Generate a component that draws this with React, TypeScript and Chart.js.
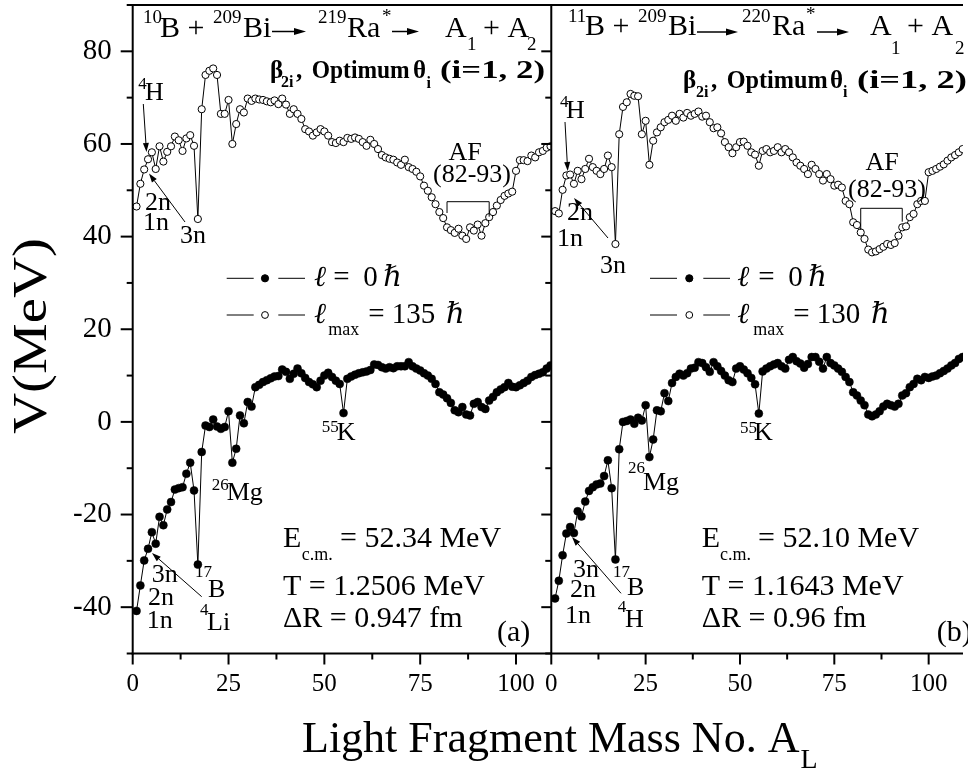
import React, { useEffect, useRef } from 'react';
import { Chart, registerables } from 'chart.js';

Chart.register(...registerables);

const SERIF = '"Liberation Serif", "Times New Roman", "DejaVu Serif", serif';

// Light fragment mass numbers A_L
const massNumbers = [
  1, 2, 3, 4, 5, 6, 7, 8, 9, 10, 11, 12, 13, 14, 15, 16, 17, 18, 19, 20,
  21, 22, 23, 24, 25, 26, 27, 28, 29, 30, 31, 32, 33, 34, 35, 36, 37, 38, 39, 40,
  41, 42, 43, 44, 45, 46, 47, 48, 49, 50, 51, 52, 53, 54, 55, 56, 57, 58, 59, 60,
  61, 62, 63, 64, 65, 66, 67, 68, 69, 70, 71, 72, 73, 74, 75, 76, 77, 78, 79, 80,
  81, 82, 83, 84, 85, 86, 87, 88, 89, 90, 91, 92, 93, 94, 95, 96, 97, 98, 99, 100,
  101, 102, 103, 104, 105, 106, 107, 108, 109,
];

// (a) 10B + 209Bi, l_max = 135 hbar (open circles)
const leftOpenV = [
  46.5, 51.4, 54.5, 56.7, 58.2, 54.6, 59.5, 56.2, 58.3, 59.5,
  61.6, 60.8, 58.5, 61.2, 61.9, 59.6, 43.8, 67.5, 74.9, 75.8,
  76.3, 74.9, 66.5, 66.5, 69.5, 60.0, 64.3, 67.5, 66.8, 69.8,
  69.3, 69.8, 69.6, 69.5, 69.2, 69.0, 69.4, 68.6, 69.8, 68.5,
  66.5, 67.5, 66.5, 65.4, 63.2, 62.7, 61.8, 62.5, 63.2, 62.7,
  61.8, 60.4, 60.2, 60.7, 60.4, 61.3, 61.1, 61.4, 61.1, 60.4,
  59.6, 60.9, 60.0, 58.9, 57.6, 57.1, 56.8, 56.6, 56.0, 55.5,
  56.6, 55.0, 54.6, 54.0, 53.0, 51.0, 49.9, 48.5, 47.0, 45.3,
  44.0, 42.0, 41.4, 40.8, 41.7, 40.2, 39.5, 42.0, 41.3, 42.6,
  40.2, 42.9, 44.2, 45.3, 46.7, 47.9, 48.8, 49.3, 49.7, 54.2,
  56.5, 56.5, 56.3, 57.5, 57.1, 58.2, 58.5, 59.2, 59.5,
];

// (a) l = 0 (filled circles)
const leftFilledV = [
  -40.8, -35.3, -29.9, -27.4, -23.8, -26.3, -20.5, -22.3, -18.9, -17.3,
  -14.6, -14.3, -14.1, -11.2, -8.8, -14.8, -30.8, -6.5, -0.8, -1.1,
  0.5, -1.0, -1.5, -1.1, 2.3, -8.8, -5.8, 1.4, -0.3, 4.3,
  3.3, 7.5, 8.0, 8.6, 9.0, 9.4, 9.8, 9.9, 11.3, 10.8,
  9.3, 10.4, 11.5, 10.5, 9.5, 8.6, 8.1, 7.5, 8.9, 10.0,
  10.6, 9.7, 8.9, 8.2, 1.9, 9.3, 9.8, 10.2, 10.5, 10.7,
  10.9, 11.2, 12.4, 12.3, 11.8, 11.5, 11.8, 11.6, 12.0, 12.0,
  12.0, 12.9, 12.0, 11.5, 11.1, 10.5, 10.0, 9.3, 8.2, 6.4,
  5.9, 5.1, 4.1, 2.5, 2.1, 3.2, 1.6, 1.4, 3.9, 4.3,
  3.2, 2.8, 4.6, 5.4, 6.4, 7.0, 7.5, 8.4, 7.6, 7.5,
  7.9, 8.4, 8.9, 9.7, 10.1, 10.4, 10.7, 11.5, 12.2,
];

// (b) 11B + 209Bi, l_max = 130 hbar (open circles)
const rightOpenV = [
  45.5, 45.0, 50.1, 53.2, 53.4, 51.4, 54.2, 52.4, 54.6, 56.8,
  55.0, 54.2, 53.5, 54.6, 57.5, 55.0, 38.4, 62.1, 68.0, 69.0,
  70.8, 70.4, 70.3, 62.1, 65.0, 55.5, 60.7, 62.5, 63.6, 64.7,
  65.2, 66.1, 65.0, 66.5, 65.7, 66.7, 66.1, 66.5, 67.0, 65.9,
  66.1, 64.7, 63.4, 63.6, 62.3, 60.4, 59.3, 58.0, 59.3, 60.4,
  60.5, 59.6, 58.2, 57.7, 55.3, 58.5, 58.9, 58.2, 58.5, 59.3,
  58.2, 58.9, 58.2, 57.1, 56.0, 55.3, 54.6, 53.5, 55.5, 54.6,
  53.5, 52.1, 53.5, 52.4, 51.0, 51.2, 50.6, 47.7, 47.0, 43.1,
  42.5, 40.9, 39.5, 37.2, 36.6, 36.8, 37.3, 37.8, 38.4, 38.2,
  38.6, 40.2, 42.0, 42.2, 44.2, 44.9, 47.0, 47.7, 47.7, 53.9,
  54.2, 54.6, 55.1, 55.6, 56.4, 57.1, 57.6, 58.2, 58.9,
];

// (b) l = 0 (filled circles)
const rightFilledV = [
  -38.1, -34.3, -28.8, -24.1, -22.7, -24.0, -19.3, -20.4, -17.2, -14.9,
  -14.1, -13.5, -13.3, -11.7, -8.3, -14.3, -29.7, -5.9, 0.0, 0.2,
  0.5, -0.4, 0.9, 0.3, 3.6, -7.6, -3.8, 2.5, 2.3, 6.2,
  4.5, 8.4, 9.7, 10.4, 10.0, 10.5, 11.5, 11.7, 12.9, 12.7,
  11.8, 10.8, 12.9, 12.0, 11.0, 10.0, 9.0, 8.6, 11.5, 12.0,
  11.3, 10.5, 9.5, 8.1, 1.8, 10.9, 11.5, 12.0, 12.4, 12.7,
  12.0, 11.5, 13.4, 14.0, 13.1, 12.6, 11.7, 12.5, 14.0, 14.0,
  13.0, 11.5, 14.0, 12.7, 12.2, 11.5, 10.8, 9.7, 8.6, 6.4,
  5.7, 4.6, 3.6, 1.6, 1.2, 1.6, 2.3, 3.3, 3.9, 3.6,
  3.3, 3.9, 5.7, 6.2, 7.5, 8.2, 9.3, 9.0, 9.7, 9.5,
  9.8, 10.0, 10.5, 11.0, 11.5, 12.2, 12.7, 13.6, 14.0,
];

const yTickValues = [-50, -40, -30, -20, -10, 0, 10, 20, 30, 40, 50, 60, 70, 80, 90];
const yLabelValues = [-40, -20, 0, 20, 40, 60, 80];
const xTickValues = [0, 12.5, 25, 37.5, 50, 62.5, 75, 87.5, 100];
const xLabelValues = [0, 25, 50, 75, 100];
const afBand = [82, 93];

// ---------- drawing helpers ----------
function put(ctx: any, text: string, x: number, y: number, size: number, style = '', align = 'left', fitW = 0) {
  ctx.save();
  ctx.font = `${style} ${size}px ${SERIF}`.trim();
  ctx.textAlign = align;
  ctx.textBaseline = 'alphabetic';
  ctx.fillStyle = '#000';
  if (fitW > 0) {
    const w = ctx.measureText(text).width;
    ctx.translate(x, y);
    ctx.scale(fitW / w, 1);
    ctx.fillText(text, 0, 0);
  } else {
    ctx.fillText(text, x, y);
  }
  ctx.restore();
}

function seg(ctx: any, x1: number, y1: number, x2: number, y2: number, w = 1) {
  ctx.save();
  ctx.strokeStyle = '#000';
  ctx.lineWidth = w;
  ctx.beginPath();
  ctx.moveTo(x1, y1);
  ctx.lineTo(x2, y2);
  ctx.stroke();
  ctx.restore();
}

function arrow(ctx: any, x1: number, y1: number, x2: number, y2: number, head = 10, half = 3.2, w = 1) {
  const ang = Math.atan2(y2 - y1, x2 - x1);
  const bx = x2 - head * Math.cos(ang);
  const by = y2 - head * Math.sin(ang);
  seg(ctx, x1, y1, bx, by, w);
  ctx.save();
  ctx.fillStyle = '#000';
  ctx.beginPath();
  ctx.moveTo(x2, y2);
  ctx.lineTo(bx + half * Math.sin(ang), by - half * Math.cos(ang));
  ctx.lineTo(bx - half * Math.sin(ang), by + half * Math.cos(ang));
  ctx.closePath();
  ctx.fill();
  ctx.restore();
}

function circ(ctx: any, x: number, y: number, r: number, filled: boolean) {
  ctx.save();
  ctx.beginPath();
  ctx.arc(x, y, r, 0, Math.PI * 2);
  ctx.fillStyle = filled ? '#000' : '#fff';
  ctx.fill();
  ctx.strokeStyle = '#000';
  ctx.lineWidth = 1;
  ctx.stroke();
  ctx.restore();
}

const decorPlugin = {
  id: 'decor',
  beforeDatasetDraw(chart: any, args: any) {
    const meta = chart.getDatasetMeta(args.index);
    const xs = meta.xScale;
    const ca = chart.chartArea;
    chart.ctx.save();
    chart.ctx.beginPath();
    chart.ctx.rect(xs.left, ca.top - 10, xs.right - xs.left, ca.bottom - ca.top + 20);
    chart.ctx.clip();
  },
  afterDatasetDraw(chart: any) {
    chart.ctx.restore();
  },
  afterDraw(chart: any) {
    const ctx = chart.ctx;
    const ca = chart.chartArea;
    const ys = chart.scales.y;
    const xl = chart.scales.x1;
    const xr = chart.scales.x2;

    // frame
    seg(ctx, ca.left - 1, ca.top, ca.right, ca.top, 2);
    seg(ctx, ca.left, ca.top, ca.left, ca.bottom + 1, 2);
    seg(ctx, ca.left - 1, ca.bottom, ca.right, ca.bottom, 2);
    seg(ctx, xr.left, ca.top, xr.left, ca.bottom, 2);

    // y ticks (outward on left axis, and on the divider)
    yTickValues.forEach((v) => {
      const py = ys.getPixelForValue(v);
      const major = v % 20 === 0;
      seg(ctx, ca.left - (major ? 12 : 6), py, ca.left, py, 2);
      seg(ctx, xr.left - (major ? 10 : 6), py, xr.left, py, 2);
    });
    // x ticks
    [xl, xr].forEach((sc: any) => {
      xTickValues.forEach((v) => {
        const px = sc.getPixelForValue(v);
        const major = v % 25 === 0;
        seg(ctx, px, ca.bottom, px, ca.bottom + (major ? 11 : 6), 2);
      });
    });

    // axis titles
    ctx.save();
    ctx.translate(46, 336);
    ctx.rotate(-Math.PI / 2);
    put(ctx, 'V(MeV)', -98, 0, 48, '', 'left', 196);
    ctx.restore();
    ctx.save();
    ctx.font = `44px ${SERIF}`;
    const tx = 302;
    const tw = ctx.measureText('Light Fragment Mass No. A').width;
    ctx.restore();
    put(ctx, 'Light Fragment Mass No. A', tx, 752, 44);
    put(ctx, 'L', tx + tw + 1, 768, 28);

    // ----- panel (a) top -----
    put(ctx, '10', 143, 23, 19);
    put(ctx, 'B +', 160, 36.7, 30);
    put(ctx, '209', 213, 23, 19);
    put(ctx, 'Bi', 243, 36.7, 30);
    arrow(ctx, 272, 31.5, 306, 31.5, 12, 3.5, 1.5);
    put(ctx, '219', 318, 23, 19);
    put(ctx, 'Ra', 347, 36.7, 30);
    put(ctx, '*', 382, 22, 19);
    arrow(ctx, 392, 31.5, 419, 31.5, 12, 3.5, 1.5);
    put(ctx, 'A', 445, 36.7, 30);
    put(ctx, '1', 467, 50, 19);
    put(ctx, '+ A', 483, 36.7, 30);
    put(ctx, '2', 527, 50, 19);

    put(ctx, 'β', 270, 78, 25, 'bold');
    put(ctx, '2i', 281, 87, 16, 'bold');
    put(ctx, ',', 296, 78, 25, 'bold');
    put(ctx, 'Optimum', 311.7, 78, 25, 'bold', 'left', 98);
    put(ctx, 'θ', 413, 78, 25, 'bold');
    put(ctx, 'i', 426.5, 88, 16, 'bold');
    put(ctx, '(i=1, 2)', 440, 78, 25, 'bold', 'left', 105);

    // ----- panel (b) top -----
    put(ctx, '11', 568, 22, 19);
    put(ctx, 'B +', 585, 35, 30);
    put(ctx, '209', 638, 22, 19);
    put(ctx, 'Bi', 668, 35, 30);
    arrow(ctx, 697, 32, 738, 32, 12, 3.5, 1.5);
    put(ctx, '220', 742, 22, 19);
    put(ctx, 'Ra', 772, 35, 30);
    put(ctx, '*', 806, 20, 19);
    arrow(ctx, 817, 32, 849, 32, 12, 3.5, 1.5);
    put(ctx, 'A', 870, 35, 30);
    put(ctx, '1', 891, 54, 19);
    put(ctx, '+ A', 907, 35, 30);
    put(ctx, '2', 955, 54, 19);

    put(ctx, 'β', 683, 87.5, 25, 'bold');
    put(ctx, '2i', 696, 96.5, 16, 'bold');
    put(ctx, ',', 711, 87.5, 25, 'bold');
    put(ctx, 'Optimum', 726.7, 87.5, 25, 'bold', 'left', 101);
    put(ctx, 'θ', 830, 87.5, 25, 'bold');
    put(ctx, 'i', 843, 97, 16, 'bold');
    put(ctx, '(i=1, 2)', 857, 87.5, 25, 'bold', 'left', 110);

    // ----- legends -----
    const legend = (l1: number, dot: number, l2a: number, l2b: number, tx0: number, eq1: number, z: number, hb1: number,
      mx: number, eq2: number, num: number, hb2: number, numTxt: string) => {
      const yA = 278.3, yB = 315;
      seg(ctx, l1, yA, l1 + 27, yA, 1);
      seg(ctx, l2a, yA, l2b, yA, 1);
      circ(ctx, dot, yA, 3.6, true);
      seg(ctx, l1, yB, l1 + 27, yB, 1);
      seg(ctx, l2a, yB, l2b, yB, 1);
      circ(ctx, dot, yB, 3.4, false);
      put(ctx, 'ℓ', tx0, 285.7, 29, 'italic');
      put(ctx, '=', eq1, 285.7, 29);
      put(ctx, '0', z, 285.7, 29);
      put(ctx, 'ℏ', hb1, 285.7, 29, 'italic');
      put(ctx, 'ℓ', tx0, 323.3, 29, 'italic');
      put(ctx, 'max', mx, 335, 18);
      put(ctx, '=', eq2, 323.3, 29);
      put(ctx, numTxt, num, 323.3, 29);
      put(ctx, 'ℏ', hb2, 323.3, 29, 'italic');
    };
    legend(226.7, 265, 278.3, 305, 314, 333.3, 363.3, 383.3, 328.3, 368.3, 391.7, 446, '135');
    legend(650, 689.3, 703.3, 730, 737.3, 758.3, 788.3, 808.3, 753.3, 793.3, 816.7, 871, '130');

    // ----- panel (a) labels -----
    put(ctx, '4', 138.3, 89, 17);
    put(ctx, 'H', 145, 100, 26);
    arrow(ctx, 143.3, 104, 146.5, 152, 9, 3);
    put(ctx, '2n', 145, 210, 26);
    put(ctx, '1n', 143, 230, 26);
    put(ctx, '3n', 180, 242.7, 26);
    arrow(ctx, 185, 222, 149, 173.5, 9, 3);
    put(ctx, 'AF', 465, 160, 26, '', 'center');
    put(ctx, '(82-93)', 472, 181.7, 26, '', 'center');
    {
      const a = xl.getPixelForValue(afBand[0]);
      const b = xl.getPixelForValue(afBand[1]);
      seg(ctx, a, 213, a, 201.7, 1);
      seg(ctx, a, 201.7, b, 201.7, 1);
      seg(ctx, b, 201.7, b, 216.7, 1);
    }
    put(ctx, '55', 321.7, 431.7, 17);
    put(ctx, 'K', 336.7, 440, 26);
    put(ctx, '26', 211.7, 490, 17);
    put(ctx, 'Mg', 226.7, 500, 26);
    put(ctx, '17', 195, 577, 17);
    put(ctx, 'B', 208, 596.7, 26);
    put(ctx, '3n', 151.7, 581.7, 26);
    put(ctx, '2n', 148, 605, 26);
    put(ctx, '1n', 146.7, 628, 26);
    put(ctx, '4', 200, 615, 17);
    put(ctx, 'Li', 207, 630, 26);
    arrow(ctx, 201.7, 596.7, 152, 553, 9, 3);

    put(ctx, 'E', 283, 546.7, 30);
    put(ctx, 'c.m.', 301.7, 560, 18);
    put(ctx, '= 52.34 MeV', 340, 546.7, 30);
    put(ctx, 'T = 1.2506 MeV', 283, 595, 30);
    put(ctx, 'ΔR = 0.947 fm', 283, 626.7, 30);
    put(ctx, '(a)', 497, 641, 30);

    // ----- panel (b) labels -----
    put(ctx, '4', 560, 107, 17);
    put(ctx, 'H', 566, 118.3, 26);
    arrow(ctx, 565, 122, 567.7, 171, 9, 3);
    put(ctx, '2n', 567, 220, 26);
    put(ctx, '1n', 557, 246, 26);
    put(ctx, '3n', 600, 273, 26);
    arrow(ctx, 608, 238, 574, 198, 9, 3);
    put(ctx, 'AF', 882, 170, 26, '', 'center');
    put(ctx, '(82-93)', 887, 196.7, 26, '', 'center');
    {
      const a = xr.getPixelForValue(afBand[0]);
      const b = xr.getPixelForValue(afBand[1]);
      seg(ctx, a, 230, a, 208.3, 1);
      seg(ctx, a, 208.3, b, 208.3, 1);
      seg(ctx, b, 208.3, b, 221.7, 1);
    }
    put(ctx, '55', 740, 433, 17);
    put(ctx, 'K', 754, 440, 26);
    put(ctx, '26', 628, 473, 17);
    put(ctx, 'Mg', 643, 490, 26);
    put(ctx, '17', 613, 576.7, 17);
    put(ctx, 'B', 627, 595, 26);
    put(ctx, '3n', 573, 576.7, 26);
    put(ctx, '2n', 570, 596.7, 26);
    put(ctx, '1n', 565, 623.3, 26);
    put(ctx, '4', 617.7, 611.7, 17);
    put(ctx, 'H', 625, 626.7, 26);
    arrow(ctx, 621, 593.3, 572, 537, 9, 3);

    put(ctx, 'E', 701.7, 546.7, 30);
    put(ctx, 'c.m.', 720, 560, 18);
    put(ctx, '= 52.10 MeV', 758, 546.7, 30);
    put(ctx, 'T = 1.1643 MeV', 701.7, 595, 30);
    put(ctx, 'ΔR = 0.96 fm', 701.7, 626.7, 30);
    put(ctx, '(b)', 936.7, 641, 30);
  },
};

const toPoints = (vals: number[]) => massNumbers.map((a, i) => ({ x: a, y: vals[i] }));

const filledStyle = {
  borderColor: '#000',
  borderWidth: 1,
  pointRadius: 4,
  pointBackgroundColor: '#000',
  pointBorderColor: '#000',
  pointBorderWidth: 0.5,
  tension: 0,
  fill: false,
};
const openStyle = {
  borderColor: '#000',
  borderWidth: 1,
  pointRadius: 3.6,
  pointBackgroundColor: '#fff',
  pointBorderColor: '#000',
  pointBorderWidth: 1,
  tension: 0,
  fill: false,
};

const xAxis = (max: number, weight: number) => ({
  type: 'linear',
  position: 'bottom',
  stack: 'panels',
  stackWeight: weight,
  min: 0,
  max,
  afterBuildTicks: (s: any) => {
    s.ticks = xTickValues.map((v) => ({ value: v }));
  },
  afterFit: (s: any) => {
    s.height = 120.5;
    s.paddingLeft = 0;
    s.paddingRight = 0;
  },
  ticks: {
    color: '#000',
    font: { family: SERIF, size: 25 },
    padding: 5,
    maxRotation: 0,
    autoSkip: false,
    callback: (v: any) => (xLabelValues.includes(Number(v)) ? String(v) : ''),
  },
  grid: {
    display: true,
    drawOnChartArea: false,
    drawTicks: true,
    tickLength: 11,
    tickColor: 'rgba(0,0,0,0)',
    color: 'rgba(0,0,0,0)',
  },
  border: { display: false },
});

export default function App() {
  const ref = useRef<HTMLCanvasElement | null>(null);
  useEffect(() => {
    if (!ref.current) return;
    const chart = new Chart(ref.current, {
      type: 'line',
      data: {
        datasets: [
          { label: 'l=0 (a)', data: toPoints(leftFilledV), xAxisID: 'x1', yAxisID: 'y', ...filledStyle },
          { label: 'lmax=135 (a)', data: toPoints(leftOpenV), xAxisID: 'x1', yAxisID: 'y', ...openStyle },
          { label: 'l=0 (b)', data: toPoints(rightFilledV), xAxisID: 'x2', yAxisID: 'y', ...filledStyle },
          { label: 'lmax=130 (b)', data: toPoints(rightOpenV), xAxisID: 'x2', yAxisID: 'y', ...openStyle },
        ],
      },
      options: {
        animation: false,
        responsive: false,
        devicePixelRatio: 1,
        layout: { padding: { top: 4, left: 0, right: 0, bottom: 0 } },
        plugins: { legend: { display: false }, tooltip: { enabled: false }, title: { display: false } },
        scales: {
          y: {
            type: 'linear',
            position: 'left',
            min: -50,
            max: 90,
            afterBuildTicks: (s: any) => {
              s.ticks = yTickValues.map((v) => ({ value: v }));
            },
            afterFit: (s: any) => {
              s.width = 132.7;
              s.paddingTop = 0;
              s.paddingBottom = 0;
            },
            ticks: {
              color: '#000',
              font: { family: SERIF, size: 29 },
              padding: 9,
              autoSkip: false,
              callback: (v: any) => (yLabelValues.includes(Number(v)) ? String(v) : ''),
            },
            grid: {
              display: true,
              drawOnChartArea: false,
              drawTicks: true,
              tickLength: 12,
              tickColor: 'rgba(0,0,0,0)',
              color: 'rgba(0,0,0,0)',
            },
            border: { display: false },
          },
          x1: xAxis(109.2, 421.1) as any,
          x2: xAxis(109.1, 414.2) as any,
        },
      } as any,
      plugins: [decorPlugin],
    });
    return () => chart.destroy();
  }, []);

  return (
    <div style={{ position: 'absolute', left: 0, top: 0, width: 968, height: 774, background: '#fff' }}>
      <canvas ref={ref} width={968} height={774} style={{ display: 'block', width: 968, height: 774 }} />
    </div>
  );
}
